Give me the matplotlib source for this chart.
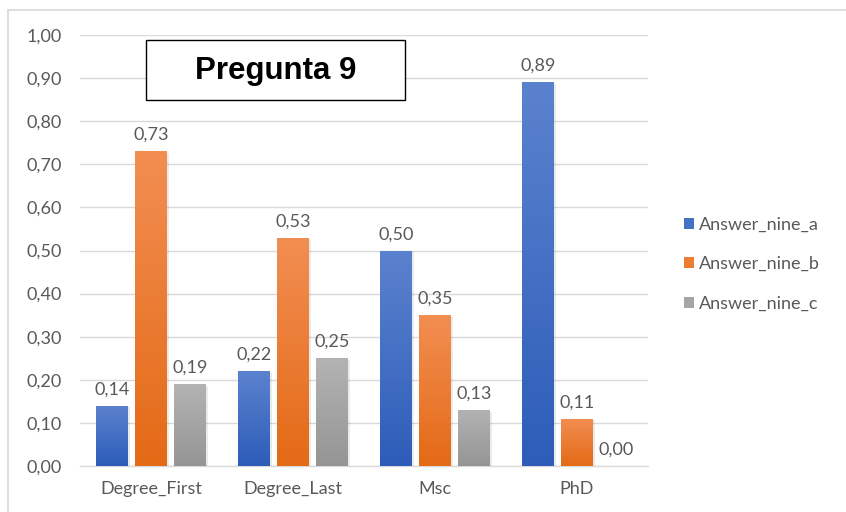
import matplotlib
matplotlib.use('Agg')
import matplotlib.pyplot as plt
from matplotlib.colors import LinearSegmentedColormap
from matplotlib.patches import Patch, Rectangle
from matplotlib.lines import Line2D
from matplotlib.ticker import FixedLocator, FuncFormatter
import numpy as np

# data
categories = ['Degree_First', 'Degree_Last', 'Msc', 'PhD']
answer_a = [0.14, 0.22, 0.50, 0.89]
answer_b = [0.73, 0.53, 0.35, 0.11]
answer_c = [0.19, 0.25, 0.13, 0.00]
series_names = ['Answer_nine_a', 'Answer_nine_b', 'Answer_nine_c']
y_ticks = [0.0, 0.1, 0.2, 0.3, 0.4, 0.5, 0.6, 0.7, 0.8, 0.9, 1.0]
title_text = 'Pregunta 9'

plt.rcParams['font.family'] = ['Lato', 'DejaVu Sans']
text_grey = '#595959'

# (top, bottom, flat) colours for the excel-like gradient fill
colors = {
    'Answer_nine_a': ('#5b82ce', '#2d5db9', '#4472c4'),
    'Answer_nine_b': ('#f28e52', '#e46a16', '#ed7d31'),
    'Answer_nine_c': ('#b3b3b3', '#959595', '#a5a5a5'),
}

fig = plt.figure(figsize=(8.46, 5.12), dpi=100)
W, H = 846.0, 512.0
ax = fig.add_axes([80 / W, 1 - 466 / H, 568 / W, 431 / H])

x = np.arange(len(categories))
bar_w = 0.225
step = 0.275
grad = np.linspace(0, 1, 256).reshape(-1, 1)

for i, (name, vals) in enumerate(zip(series_names, [answer_a, answer_b, answer_c])):
    top, bottom, flat = colors[name]
    cmap = LinearSegmentedColormap.from_list(name, [bottom, top])
    bars = ax.bar(x + (i - 1) * step, vals, width=bar_w, color='none',
                  edgecolor='none', zorder=3)
    for b, v in zip(bars, vals):
        bx, bw, bh = b.get_x(), b.get_width(), b.get_height()
        if bh > 0:
            # soft shadow
            ax.add_patch(Rectangle((bx + 0.012, -0.004), bw, bh, facecolor='#000000',
                                   alpha=0.08, edgecolor='none', zorder=2))
            im = ax.imshow(grad, extent=[bx, bx + bw, 0, bh], origin='lower',
                           aspect='auto', cmap=cmap, zorder=3)
            im.set_clip_path(b)
        ax.annotate(f'{v:.2f}'.replace('.', ','), (b.get_x() + bw / 2, bh),
                    xytext=(0, 6), textcoords='offset points', ha='center',
                    va='bottom', fontsize=13, color=text_grey)

ax.set_xlim(-0.5, len(categories) - 0.5)
ax.set_ylim(0, 1.0)
ax.set_aspect('auto')

ax.yaxis.set_major_locator(FixedLocator(y_ticks))
ax.yaxis.set_major_formatter(FuncFormatter(lambda v, p: f'{v:.2f}'.replace('.', ',')))
ax.set_xticks(x)
ax.set_xticklabels(categories)
ax.tick_params(axis='both', length=0, labelsize=13, colors=text_grey)
ax.tick_params(axis='y', pad=13)
ax.tick_params(axis='x', pad=11)

ax.grid(axis='y', color='#d9d9d9', linewidth=1.0, zorder=0)
ax.set_axisbelow(True)
for s in ['top', 'right', 'left']:
    ax.spines[s].set_visible(False)
ax.spines['bottom'].set_color('#d9d9d9')
ax.spines['bottom'].set_linewidth(1.0)

# legend
handles = [Patch(facecolor=colors[n][2], edgecolor='none', label=n) for n in series_names]
fig.legend(handles=handles, loc='center left', bbox_to_anchor=(668 / W, 1 - 264 / H),
           frameon=False, fontsize=13, handlelength=0.55, handleheight=0.55,
           handletextpad=0.25, labelspacing=1.3, labelcolor=text_grey)

# title box
fig.patches.append(Rectangle((146 / W, 1 - 100 / H), 259 / W, 60 / H,
                             transform=fig.transFigure, facecolor='white',
                             edgecolor='black', linewidth=1.0, zorder=5))
fig.text(275.5 / W, 1 - 70.5 / H, title_text, ha='center', va='center',
         fontsize=22.5, fontweight='bold', family=['Liberation Sans', 'DejaVu Sans'],
         color='black', zorder=6)

# chart area border (left and top edge visible)
fig.lines.append(Line2D([8 / W, 8 / W], [0, 1 - 10 / H], transform=fig.transFigure,
                        color='#d9d9d9', linewidth=1.2))
fig.lines.append(Line2D([8 / W, 1], [1 - 10 / H, 1 - 10 / H], transform=fig.transFigure,
                        color='#d9d9d9', linewidth=1.2))

plt.savefig('out.png', dpi=100)
